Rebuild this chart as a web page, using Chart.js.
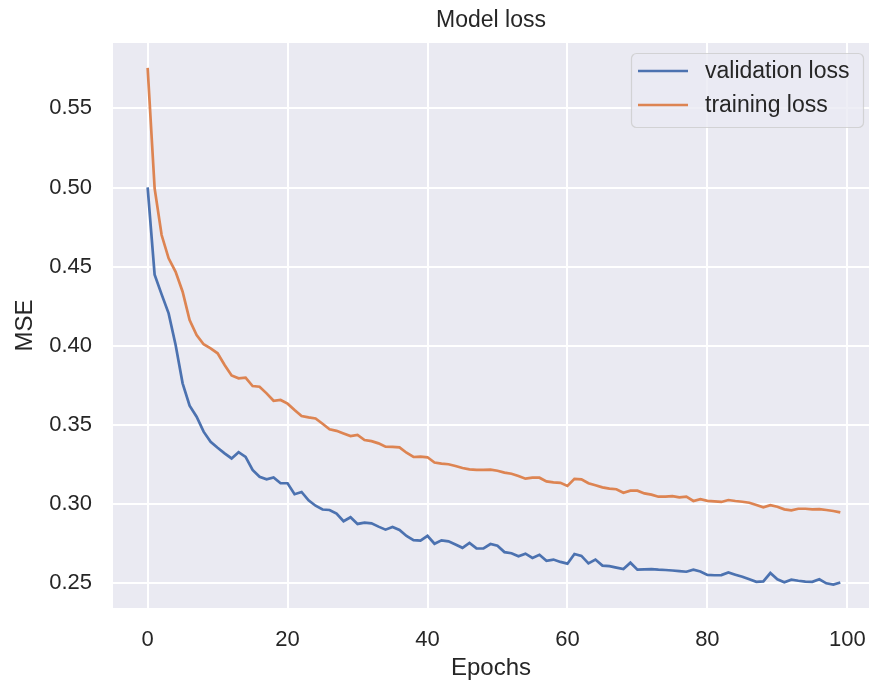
<!DOCTYPE html>
<html>
<head>
<meta charset="utf-8">
<title>Model loss</title>
<script src="https://cdn.jsdelivr.net/npm/chart.js@4.4.0/dist/chart.umd.min.js"></script>
<style>
    html, body { margin: 0; padding: 0; background: #ffffff; overflow: hidden; }
    #wrap { width: 869px; height: 686px; }
</style>
</head>
<body>
<div id="wrap"><canvas id="loss-chart" width="869" height="686"></canvas></div>
<script>
// epochs 0..99 on the x axis
const epochs = Array.from({ length: 100 }, (_, i) => i);

const validationLoss = [
    0.5001, 0.4450, 0.4325, 0.4205, 0.4005, 0.3763, 0.3622, 0.3552, 0.3458, 0.3394,
    0.3356, 0.3321, 0.3289, 0.3328, 0.3298, 0.3216, 0.3173, 0.3157, 0.3169, 0.3132,
    0.3132, 0.3063, 0.3077, 0.3024, 0.2990, 0.2966, 0.2963, 0.2940, 0.2892, 0.2917,
    0.2875, 0.2883, 0.2879, 0.2858, 0.2839, 0.2856, 0.2837, 0.2799, 0.2773, 0.2769,
    0.2800, 0.2750, 0.2771, 0.2765, 0.2745, 0.2724, 0.2755, 0.2721, 0.2720, 0.2748,
    0.2737, 0.2697, 0.2690, 0.2671, 0.2687, 0.2660, 0.2680, 0.2642, 0.2650, 0.2635,
    0.2624, 0.2685, 0.2673, 0.2626, 0.2650, 0.2612, 0.2608, 0.2599, 0.2590, 0.2630,
    0.2586, 0.2588, 0.2590, 0.2586, 0.2584, 0.2581, 0.2577, 0.2573, 0.2586, 0.2575,
    0.2553, 0.2551, 0.2552, 0.2568, 0.2554, 0.2541, 0.2525, 0.2509, 0.2512, 0.2565,
    0.2525, 0.2507, 0.2523, 0.2516, 0.2511, 0.2509, 0.2525, 0.2500, 0.2492, 0.2505
];

const trainingLoss = [
    0.5756, 0.4995, 0.4700, 0.4553, 0.4468, 0.4342, 0.4163, 0.4068, 0.4010, 0.3984,
    0.3953, 0.3879, 0.3813, 0.3795, 0.3799, 0.3746, 0.3742, 0.3700, 0.3653, 0.3658,
    0.3635, 0.3595, 0.3557, 0.3548, 0.3541, 0.3508, 0.3473, 0.3463, 0.3446, 0.3430,
    0.3438, 0.3405, 0.3398, 0.3384, 0.3363, 0.3362, 0.3359, 0.3325, 0.3298, 0.3300,
    0.3296, 0.3263, 0.3256, 0.3252, 0.3241, 0.3228, 0.3220, 0.3216, 0.3216, 0.3218,
    0.3211, 0.3199, 0.3192, 0.3178, 0.3161, 0.3167, 0.3167, 0.3144, 0.3138, 0.3135,
    0.3115, 0.3160, 0.3157, 0.3132, 0.3119, 0.3106, 0.3098, 0.3094, 0.3072, 0.3085,
    0.3085, 0.3068, 0.3060, 0.3047, 0.3047, 0.3051, 0.3043, 0.3047, 0.3020, 0.3032,
    0.3021, 0.3018, 0.3014, 0.3026, 0.3020, 0.3015, 0.3009, 0.2995, 0.2980, 0.2993,
    0.2984, 0.2967, 0.2961, 0.2971, 0.2971, 0.2967, 0.2969, 0.2963, 0.2957, 0.2948
];

const xTicks = [0, 20, 40, 60, 80, 100];
const yTicks = [0.25, 0.30, 0.35, 0.40, 0.45, 0.50, 0.55];

const textColor = "#262626";
const fontFamily = "'Liberation Sans', Arial, Helvetica, sans-serif";

// grey plot background like seaborn darkgrid
const plotBackground = {
    id: "plotBackground",
    beforeDraw(chart) {
        const { ctx, chartArea } = chart;
        ctx.save();
        ctx.fillStyle = "#EAEAF2";
        ctx.fillRect(chartArea.left, chartArea.top, chartArea.right - chartArea.left, chartArea.bottom - chartArea.top);
        ctx.restore();
    },
};

// matplotlib style legend box in the upper right corner
const boxLegend = {
    id: "boxLegend",
    afterDatasetsDraw(chart) {
        const ctx = chart.ctx;
        const x = 631, y = 53, w = 232, h = 74, r = 5;
        ctx.save();
        ctx.beginPath();
        ctx.roundRect(x + 0.5, y + 0.5, w, h, r);
        ctx.fillStyle = "rgba(234, 234, 242, 0.8)";
        ctx.fill();
        ctx.strokeStyle = "rgba(204, 204, 204, 0.8)";
        ctx.lineWidth = 1.2;
        ctx.stroke();

        ctx.font = "23px " + fontFamily;
        ctx.textBaseline = "middle";
        ctx.textAlign = "left";
        chart.data.datasets.forEach(function (ds, i) {
            const rowY = 71 + i * 34;
            ctx.beginPath();
            ctx.moveTo(638, rowY);
            ctx.lineTo(688, rowY);
            ctx.strokeStyle = ds.borderColor;
            ctx.lineWidth = ds.borderWidth;
            ctx.stroke();
            ctx.fillStyle = textColor;
            ctx.fillText(ds.label, 705, rowY + 1);
        });
        ctx.restore();
    },
};

const chart = new Chart(document.getElementById("loss-chart"), {
    type: "line",
    data: {
        labels: epochs,
        datasets: [
            {
                label: "validation loss",
                data: validationLoss,
                borderColor: "#4C72B0",
                borderWidth: 2.7,
                pointRadius: 0,
                tension: 0,
                fill: false,
            },
            {
                label: "training loss",
                data: trainingLoss,
                borderColor: "#DD8452",
                borderWidth: 2.7,
                pointRadius: 0,
                tension: 0,
                fill: false,
            },
        ],
    },
    options: {
        responsive: false,
        animation: false,
        layout: { padding: 0 },
        plugins: {
            legend: { display: false },
            tooltip: { enabled: false },
            title: {
                display: true,
                text: "Model loss",
                fullSize: false,
                color: textColor,
                font: { family: fontFamily, size: 23, weight: "normal" },
                padding: { top: 7, bottom: 8.4 },
            },
        },
        scales: {
            x: {
                type: "linear",
                min: -4.95,
                max: 103.1,
                afterBuildTicks(scale) {
                    scale.ticks = xTicks.map((v) => ({ value: v }));
                },
                afterFit(scale) {
                    scale.height = 78;
                    scale.paddingLeft = 0;
                    scale.paddingRight = 0;
                },
                grid: { color: "#ffffff", lineWidth: 2, drawTicks: false },
                border: { display: false },
                ticks: {
                    color: textColor,
                    font: { family: fontFamily, size: 22 },
                    padding: 19,
                    maxRotation: 0,
                    callback: (v) => String(v),
                },
                title: {
                    display: true,
                    text: "Epochs",
                    color: textColor,
                    font: { family: fontFamily, size: 24 },
                    padding: { top: 0, bottom: 3 },
                },
            },
            y: {
                min: 0.2344,
                max: 0.5913,
                afterBuildTicks(scale) {
                    scale.ticks = yTicks.map((v) => ({ value: v }));
                },
                afterFit(scale) {
                    scale.width = 113;
                    scale.paddingTop = 0;
                    scale.paddingBottom = 0;
                },
                grid: { color: "#ffffff", lineWidth: 2, drawTicks: false },
                border: { display: false },
                ticks: {
                    color: textColor,
                    font: { family: fontFamily, size: 22 },
                    padding: 21,
                    callback: (v) => Number(v).toFixed(2),
                },
                title: {
                    display: true,
                    text: "MSE",
                    color: textColor,
                    font: { family: fontFamily, size: 24 },
                    padding: { top: 11, bottom: 0 },
                },
            },
        },
    },
    plugins: [plotBackground, boxLegend],
});
</script>
</body>
</html>
